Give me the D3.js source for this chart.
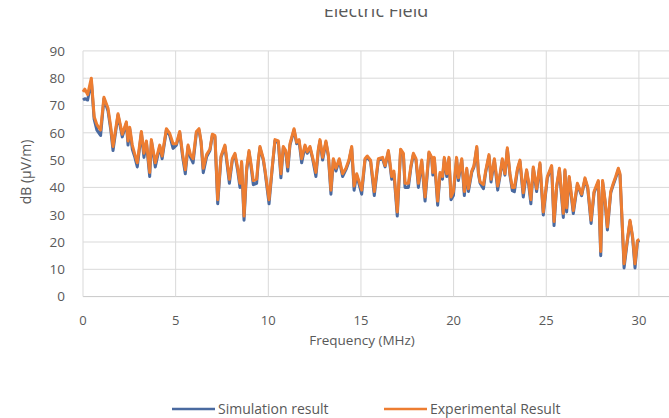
<!DOCTYPE html>
<html>
<head>
<meta charset="utf-8">
<script src="https://cdn.jsdelivr.net/npm/d3@7"></script>
<style>
  body { margin: 0; background: #fff; }
  svg { display: block; font-family: "Open Sans", "Noto Sans", sans-serif; }
</style>
</head>
<body>
<div id="chart"></div>
<script>
// Frequency (MHz) and field values
const freq = [0.0,0.1,0.25,0.45,0.6,0.75,0.95,1.13,1.35,1.5,1.62,1.89,2.12,2.34,2.43,2.52,2.66,2.8,2.93,3.15,3.29,3.42,3.6,3.69,3.9,4.14,4.27,4.5,4.68,4.86,5.04,5.22,5.38,5.52,5.67,5.8,5.94,6.12,6.26,6.37,6.49,6.67,6.85,6.98,7.12,7.27,7.45,7.66,7.9,8.06,8.2,8.35,8.47,8.56,8.69,8.83,8.96,9.1,9.19,9.37,9.46,9.55,9.73,9.82,10.04,10.22,10.36,10.54,10.68,10.81,10.94,11.05,11.17,11.39,11.53,11.66,11.8,11.98,12.1,12.25,12.39,12.57,12.7,12.79,12.93,13.11,13.24,13.38,13.51,13.65,13.83,14.01,14.19,14.35,14.5,14.63,14.77,15.04,15.22,15.34,15.52,15.72,15.94,16.17,16.3,16.48,16.66,16.78,16.96,17.14,17.29,17.38,17.56,17.7,17.83,17.97,18.1,18.28,18.46,18.67,18.82,18.88,18.96,19.14,19.27,19.4,19.5,19.63,19.75,19.86,19.99,20.16,20.26,20.44,20.58,20.71,20.8,20.98,21.1,21.25,21.34,21.43,21.61,21.73,21.91,22.02,22.2,22.38,22.5,22.63,22.77,22.9,23.04,23.17,23.28,23.45,23.58,23.76,23.94,24.05,24.17,24.3,24.48,24.66,24.84,25.06,25.29,25.42,25.56,25.71,25.92,26.01,26.1,26.24,26.46,26.68,26.91,27.09,27.24,27.42,27.58,27.81,27.94,28.04,28.17,28.3,28.48,28.62,28.75,28.89,28.98,29.2,29.38,29.52,29.66,29.79,29.92,30.02];

const simulation = [72,72.5,72,79,65,61,59,72.5,68,61,53.5,66.5,58.5,63.5,55.5,61.5,54,51,47.5,60,51,56.5,44,57,47.5,55,50.5,61,59,54.3,55.5,60,51,45,55,51,49,60,61,56.5,45.4,51.2,53.5,59,58.5,34,51,55,41.5,50,52,46,40,49,28,46,53,46,41,41.5,49.5,54.5,50,46,34,47.5,57,56.5,43.5,54.5,53,46,55.5,61,56,57,49,55,52.5,54.5,50.5,44,53.5,57,50,56.5,51.5,37.5,50,46,50,44,46.5,49.5,54.5,39,44.5,37.5,50,51,49.5,37,50,50.5,47.5,53,43,45,29.5,53.5,52,40,40,47.5,52,50,40,49.5,35,52.5,50.5,44.5,50.5,33.5,45,43,50.5,44,50.5,35.5,37,50.5,42.5,50,37,46.5,38.5,45.5,47.5,54.5,45,41.5,39.5,45.5,51.5,42,50,39,44,50,44.5,54,44.5,38.8,38.4,46.5,49.5,36.5,46,41,34,47,38.5,48.5,29.9,43.5,47.5,26,40,46.5,29,46,31,43.5,30.4,41,37,43,39.5,26.8,38,42,15,42,35,24.4,38,41,43.5,46.5,44.5,10.5,20.5,27.5,21.5,10.5,20,20.5];

const experimental = [75,76,74,80,66,63,61,73,69,62,55,67,59.5,64,57,62,55.5,52,49,60.5,52.5,57,45.5,57.5,49,55.5,51.5,61.5,59.8,56,56,60.5,52,46.5,55.5,52,50.5,60.5,61.5,57,47,52,54,59.5,59,35.5,51.5,55.5,43,50.5,52.5,47,41.5,49.5,29.5,47,53.5,47,42.5,43,50,55,50.5,46.5,35.5,48,57.5,57,45,55,53.5,47.5,56,61.5,56.5,57.5,50.5,55.5,53,55,51,45.5,54,57.5,51,57,52,39,50.5,47,50.5,45,47,50,55,40.5,45,39,50.5,51.5,50,38.5,50.5,51,48,53.5,44,46,31,54,52.5,41.5,41.5,48,52.5,50.5,41.5,50,36.5,53,51,45.5,51,35,45.5,44,51,45,51,36.5,38.5,51,43.5,50.5,38.5,47,39.5,46,48,55,45.5,42,41,46,52,43,50.5,40.5,44.5,50.5,45,54.5,45,40,40,47,50,38,46.5,42,35.5,47.5,39.5,49,31,44,48,27.5,40.5,47,30.5,46.5,32.5,44,31.5,41.5,37.5,43.5,40,28,38.5,42.5,16.5,42.5,35.5,25.5,38.5,41.5,44,47,45,12,21,28,22,12,20.5,21];

const xGrid = [0, 5, 10, 15, 20, 25, 30, 35];
const xTickLabels = [0, 5, 10, 15, 20, 25, 30];
const yTicks = [0, 10, 20, 30, 40, 50, 60, 70, 80, 90];
const seriesNames = ['Simulation result', 'Experimental Result'];
const seriesColors = ['#4a6aa0', '#ed7d31'];

const width = 669, height = 418;
const plot = { left: 83, top: 50.9, bottom: 296.6 };

const svg = d3.select('#chart')
    .append('svg')
    .attr('width', width)
    .attr('height', height);

// clipped title (only the bottom of the letters shows in the source)
svg.append('clipPath').attr('id', 'titleClip')
    .append('rect').attr('x', 0).attr('y', 9).attr('width', width).attr('height', 20);

svg.append('text')
    .attr('clip-path', 'url(#titleClip)')
    .attr('x', 376)
    .attr('y', 17)
    .attr('text-anchor', 'middle')
    .attr('font-size', 18)
    .attr('fill', '#595959')
    .text('Electric Field');

// scales: x axis runs to 35 MHz, the right part is cropped off
const xScale = d3.scaleLinear()
    .domain([0, 35])
    .range([plot.left, plot.left + 35 * 18.53]);

const yScale = d3.scaleLinear()
    .domain([0, 90])
    .range([plot.bottom, plot.top]);

// gridlines
svg.append('g')
    .selectAll('line')
    .data(yTicks)
    .enter()
    .append('line')
    .attr('x1', xScale(0))
    .attr('x2', xScale(35))
    .attr('y1', d => yScale(d))
    .attr('y2', d => yScale(d))
    .attr('stroke', d => d === 0 ? '#c8c8c8' : '#d9d9d9')
    .attr('stroke-width', 1);

svg.append('g')
    .selectAll('line')
    .data(xGrid)
    .enter()
    .append('line')
    .attr('x1', d => xScale(d))
    .attr('x2', d => xScale(d))
    .attr('y1', yScale(90))
    .attr('y2', yScale(0))
    .attr('stroke', '#d9d9d9')
    .attr('stroke-width', 1);

// tick labels
svg.append('g')
    .selectAll('text')
    .data(yTicks)
    .enter()
    .append('text')
    .attr('x', 65)
    .attr('y', d => yScale(d))
    .attr('dy', '0.36em')
    .attr('text-anchor', 'end')
    .attr('font-size', 13.5)
    .attr('fill', '#595959')
    .text(d => d);

svg.append('g')
    .selectAll('text')
    .data(xTickLabels)
    .enter()
    .append('text')
    .attr('x', d => xScale(d))
    .attr('y', 325)
    .attr('text-anchor', 'middle')
    .attr('font-size', 13)
    .attr('fill', '#595959')
    .text(d => d);

// axis titles
svg.append('text')
    .attr('x', 362)
    .attr('y', 345)
    .attr('text-anchor', 'middle')
    .attr('font-size', 13.5)
    .attr('fill', '#595959')
    .text('Frequency (MHz)');

svg.append('text')
    .attr('transform', 'translate(31,172) rotate(-90)')
    .attr('text-anchor', 'middle')
    .attr('font-size', 14)
    .attr('fill', '#595959')
    .text('dB (µV/m)');

// lines
const line = d3.line()
    .x(d => xScale(d[0]))
    .y(d => yScale(d[1]));

[simulation, experimental].forEach((values, i) => {
    svg.append('path')
        .datum(freq.map((f, j) => [f, values[j]]))
        .attr('d', line)
        .attr('fill', 'none')
        .attr('stroke', seriesColors[i])
        .attr('stroke-width', 3)
        .attr('stroke-linejoin', 'round');
});

// legend
const legendItems = [{ x: 172, lineW: 43 }, { x: 384, lineW: 43 }];
const legend = svg.append('g');
legendItems.forEach((item, i) => {
    legend.append('line')
        .attr('x1', item.x)
        .attr('x2', item.x + item.lineW)
        .attr('y1', 409)
        .attr('y2', 409)
        .attr('stroke', seriesColors[i])
        .attr('stroke-width', 2.6);
    legend.append('text')
        .attr('x', item.x + item.lineW + 3)
        .attr('y', 409)
        .attr('dy', '0.35em')
        .attr('font-size', 14)
        .attr('fill', '#595959')
        .text(seriesNames[i]);
});
</script>
</body>
</html>
